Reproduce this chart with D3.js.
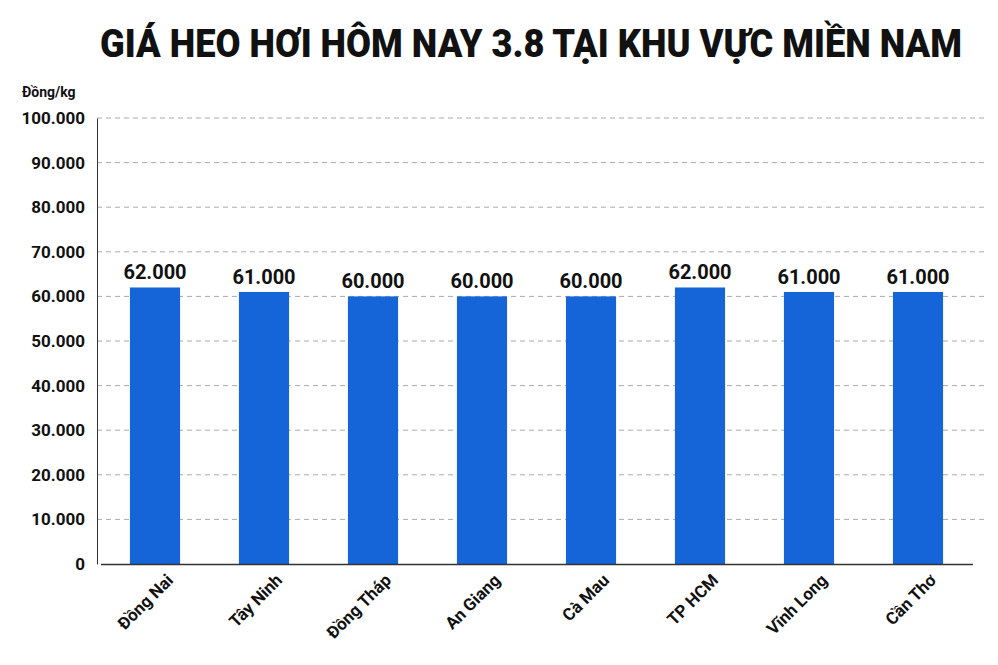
<!DOCTYPE html>
<html><head><meta charset="utf-8">
<script src="https://cdn.jsdelivr.net/npm/d3@7"></script>
<style>body{margin:0;background:#fff}text{font-family:Roboto,"Noto Sans",sans-serif}</style>
</head><body><svg id="c" width="998" height="665"></svg>
<script>
const categories=["Đồng Nai","Tây Ninh","Đồng Tháp","An Giang","Cà Mau","TP HCM","Vĩnh Long","Cần Thơ"];
const values=[62000,61000,60000,60000,60000,62000,61000,61000];
const yTicks=[0,10000,20000,30000,40000,50000,60000,70000,80000,90000,100000];
const svg=d3.select("#c");
const m={l:97,r:985,t:118,b:564};
const x=d3.scaleBand().domain(categories).range([100.5,972.5]).paddingInner(0.54).paddingOuter(0.27);
const y=d3.scaleLinear().domain([0,100000]).range([m.b,m.t]);
const fmt=v=>v===0?"0":d3.format(",")(v).replace(/,/g,".");
svg.append("text").attr("x",531).attr("y",57).attr("text-anchor","middle").attr("font-size",38).attr("font-weight",900)
 .attr("textLength",862).attr("lengthAdjust","spacingAndGlyphs").attr("fill","#111").text("GIÁ HEO HƠI HÔM NAY 3.8 TẠI KHU VỰC MIỀN NAM");
svg.append("text").attr("x",22).attr("y",97).attr("font-size",14).attr("font-weight",700).attr("fill","#111").text("Đồng/kg");
svg.append("g").selectAll("line").data(yTicks.filter(d=>d>0)).join("line")
 .attr("x1",m.l).attr("x2",m.r).attr("y1",d=>y(d)).attr("y2",d=>y(d)).attr("stroke","#aaa").attr("stroke-dasharray","5,4");
const ya=svg.append("g").attr("transform",`translate(${m.l},0)`).call(d3.axisLeft(y).tickValues(yTicks).tickFormat(fmt).tickSize(0).tickPadding(12));
ya.select(".domain").attr("stroke","#333");
ya.selectAll("text").attr("font-size",17).attr("font-weight",700).attr("fill","#111");
svg.selectAll("rect.b").data(values).join("rect").attr("class","b")
 .attr("x",(d,i)=>x(categories[i])).attr("width",x.bandwidth()).attr("y",d=>y(d)).attr("height",d=>y(0)-y(d)).attr("fill","#1665d8");
svg.selectAll("text.v").data(values).join("text").attr("class","v")
 .attr("x",(d,i)=>x(categories[i])+x.bandwidth()/2).attr("y",d=>y(d)-8).attr("text-anchor","middle")
 .attr("font-size",20).attr("font-weight",700).attr("fill","#111").text(fmt);
const xa=svg.append("g").attr("transform",`translate(0,${m.b})`).call(d3.axisBottom(x).tickSize(0).tickPadding(10));
xa.select(".domain").attr("stroke","#333").attr("stroke-width",1.5);
xa.selectAll("text").attr("font-size",17).attr("font-weight",700).attr("fill","#111")
 .attr("text-anchor","end").attr("transform","translate(8,6) rotate(-45)").attr("dy","0.35em");
</script></body></html>
